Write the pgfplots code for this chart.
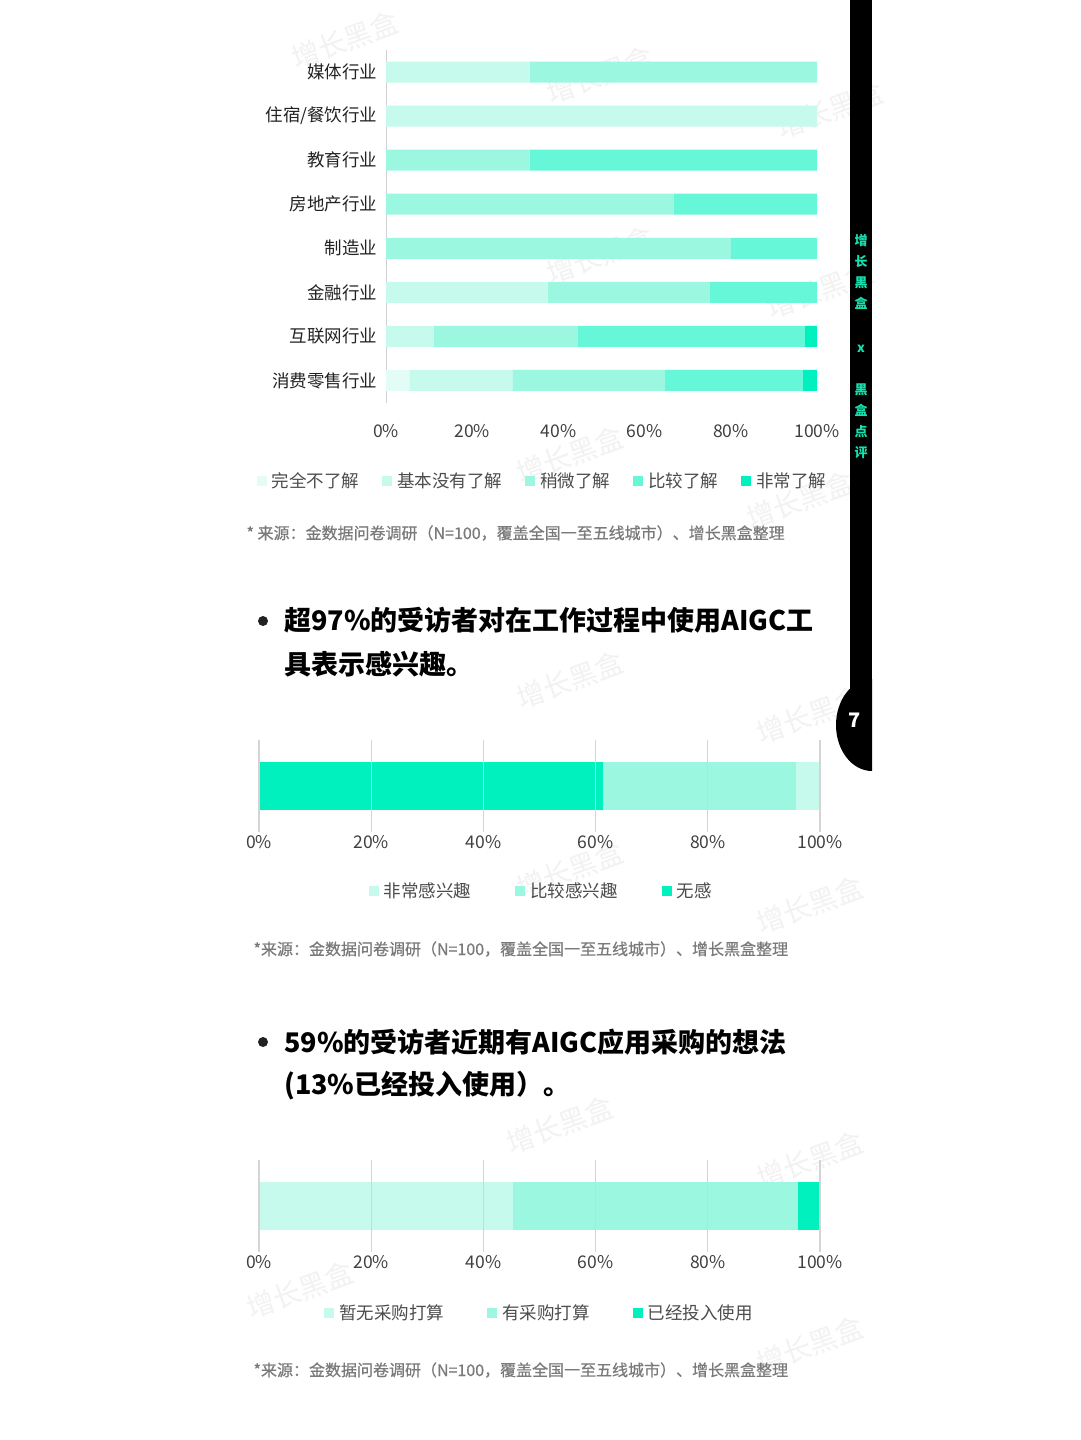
\documentclass[border=0pt]{standalone}
\usepackage{pgfplots}
\pgfplotsset{compat=1.18}
\usepackage{fontspec}
\setmainfont{Noto Sans CJK SC}
\newfontfamily\srcfont{Noto Sans CJK SC}[FakeBold=0.6]
\newcommand\fs[1]{\fontsize{#1}{#1}\selectfont}
\definecolor{cA}{HTML}{E3FCF5}
\definecolor{cB}{HTML}{C6FAEC}
\definecolor{cC}{HTML}{9CF7E1}
\definecolor{cD}{HTML}{66F7D9}
\definecolor{cE}{HTML}{00F0BE}
\definecolor{side}{HTML}{14E3B0}
\definecolor{gridc}{HTML}{D4D4D4}
\definecolor{txt}{HTML}{222222}
\definecolor{src}{HTML}{7A7A7A}
\pgfplotsset{sq/.style={legend image code/.code={\fill[##1] (0pt,-5pt) rectangle (10pt,5pt); \path (13pt,0pt);}}}
\begin{document}
\begin{tikzpicture}[x=1pt,y=1pt]
\useasboundingbox (0,0) rectangle (1080,-1440);
\fill[white] (0,0) rectangle (1080,-1440);
% watermarks
\foreach \wx/\wy in {345/40,600/75,830/110,600/255,820/290,570/455,800/500,570/680,810/715,570/870,810/905,560/1125,810/1160,300/1290,810/1345}{
  \node[rotate=20,text=black!5,font=\fs{28}] at (\wx,-\wy) {增长黑盒};
}
% sidebar
\fill[black] (850,0) rectangle (872,-710);
\begin{scope}
\clip (800,0) rectangle (872,-800);
\fill[black] (872,-725) ellipse [x radius=36, y radius=46];
\end{scope}
\node[text=white,font=\fs{20}\bfseries] at (855,-720) {7};
\node[text=side,font=\fontsize{13}{21}\selectfont\bfseries,inner sep=0,align=center] at (861,-347)
  {增\\长\\黑\\盒\\[23pt]x\\[21pt]黑\\盒\\点\\评};
% ---------- chart 1 ----------
\begin{axis}[
  at={(386pt,-50pt)}, anchor=north west,
  scale only axis, width=431pt, height=352.5pt,
  xbar stacked, bar width=21pt,
  xmin=0, xmax=100, ymin=-0.5, ymax=7.5, y dir=reverse,
  ytick={0,...,7},
  yticklabels={媒体行业,住宿/餐饮行业,教育行业,房地产行业,制造业,金融行业,互联网行业,消费零售行业},
  xtick={0,20,40,60,80,100},
  xticklabels={0\%,20\%,40\%,60\%,80\%,100\%},
  axis lines*=left,
  x axis line style={draw=none},
  y axis line style={draw=black!18, line width=1pt},
  major tick length=0pt,
  tick label style={font=\fs{17.5}, text=txt},
  yticklabel style={xshift=-5pt},
  xticklabel style={yshift=-18pt, text=black!75},
  legend columns=5,
  legend style={at={(axis description cs:0.363,-0.223)}, anchor=center, draw=none, fill=none,
    font=\fs{17.5}, text=black!70, /tikz/every even column/.append style={column sep=21pt}},
]
\addplot[sq, fill=cA, draw=none] coordinates {(0,0) (0,1) (0,2) (0,3) (0,4) (0,5) (0,6) (5.4,7)};
\addlegendentry{完全不了解}
\addplot[sq, fill=cB, draw=none] coordinates {(33.3,0) (100,1) (0,2) (0,3) (0,4) (37.5,5) (11.1,6) (23.9,7)};
\addlegendentry{基本没有了解}
\addplot[sq, fill=cC, draw=none] coordinates {(66.7,0) (0,1) (33.3,2) (66.7,3) (80,4) (37.5,5) (33.3,6) (35.4,7)};
\addlegendentry{稍微了解}
\addplot[sq, fill=cD, draw=none] coordinates {(0,0) (0,1) (66.7,2) (33.3,3) (20,4) (25,5) (52.8,6) (32.0,7)};
\addlegendentry{比较了解}
\addplot[sq, fill=cE, draw=none] coordinates {(0,0) (0,1) (0,2) (0,3) (0,4) (0,5) (2.8,6) (3.3,7)};
\addlegendentry{非常了解}
\end{axis}
\node[anchor=west,text=src,font=\srcfont\fs{16}] at (243,-533) {* 来源：金数据问卷调研（N=100，覆盖全国一至五线城市）、增长黑盒整理};
% ---------- title 2 ----------
\fill[txt] (263,-621) circle (5);
\node[anchor=west,text=black,font=\fs{27}\bfseries,inner sep=0] at (284,-620) {超97\%的受访者对在工作过程中使用AIGC工};
\node[anchor=west,text=black,font=\fs{27}\bfseries,inner sep=0] at (284,-664) {具表示感兴趣。};
% ---------- chart 2 ----------
\begin{axis}[
  at={(259pt,-740pt)}, anchor=north west,
  scale only axis, width=561pt, height=92pt,
  xbar stacked, bar width=48pt,
  xmin=0, xmax=100, ymin=-1, ymax=1,
  ytick=\empty,
  xtick={0,20,40,60,80,100},
  xticklabels={0\%,20\%,40\%,60\%,80\%,100\%},
  xmajorgrids, grid style={draw=gridc, line width=1.2pt},
  axis on top,
  axis line style={draw=none},
  major tick length=0pt,
  tick label style={font=\fs{17.5}, text=black!75},
  xticklabel style={yshift=0pt},
  legend columns=3, reverse legend,
  legend style={at={(axis description cs:0.503,-0.641)}, anchor=center, draw=none, fill=none,
    font=\fs{17.5}, text=black!70, /tikz/every even column/.append style={column sep=42pt}},
]
\addplot[sq, fill=cE, draw=none] coordinates {(61.4,0)};
\addlegendentry{无感}
\addplot[sq, fill=cC, draw=none] coordinates {(34.4,0)};
\addlegendentry{比较感兴趣}
\addplot[sq, fill=cB, draw=none] coordinates {(4.2,0)};
\addlegendentry{非常感兴趣}
\end{axis}
\node[anchor=west,text=src,font=\srcfont\fs{16}] at (250,-949) {*来源：金数据问卷调研（N=100，覆盖全国一至五线城市）、增长黑盒整理};
% ---------- title 3 ----------
\fill[txt] (263,-1042) circle (5);
\node[anchor=west,text=black,font=\fs{27}\bfseries,inner sep=0] at (284,-1042) {59\%的受访者近期有AIGC应用采购的想法};
\node[anchor=west,text=black,font=\fs{27}\bfseries,inner sep=0] at (284,-1086) {(13\%已经投入使用）。};
% ---------- chart 3 ----------
\begin{axis}[
  at={(259pt,-1160pt)}, anchor=north west,
  scale only axis, width=561pt, height=92pt,
  xbar stacked, bar width=48pt,
  xmin=0, xmax=100, ymin=-1, ymax=1,
  ytick=\empty,
  xtick={0,20,40,60,80,100},
  xticklabels={0\%,20\%,40\%,60\%,80\%,100\%},
  xmajorgrids, grid style={draw=gridc, line width=1.2pt},
  axis on top,
  axis line style={draw=none},
  major tick length=0pt,
  tick label style={font=\fs{17.5}, text=black!75},
  xticklabel style={yshift=0pt},
  legend columns=3,
  legend style={at={(axis description cs:0.50,-0.663)}, anchor=center, draw=none, fill=none,
    font=\fs{17.5}, text=black!70, /tikz/every even column/.append style={column sep=41pt}},
]
\addplot[sq, fill=cB, draw=none] coordinates {(45.3,0)};
\addlegendentry{暂无采购打算}
\addplot[sq, fill=cC, draw=none] coordinates {(50.8,0)};
\addlegendentry{有采购打算}
\addplot[sq, fill=cE, draw=none] coordinates {(3.9,0)};
\addlegendentry{已经投入使用}
\end{axis}
\node[anchor=west,text=src,font=\srcfont\fs{16}] at (250,-1370) {*来源：金数据问卷调研（N=100，覆盖全国一至五线城市）、增长黑盒整理};
\end{tikzpicture}
\end{document}
